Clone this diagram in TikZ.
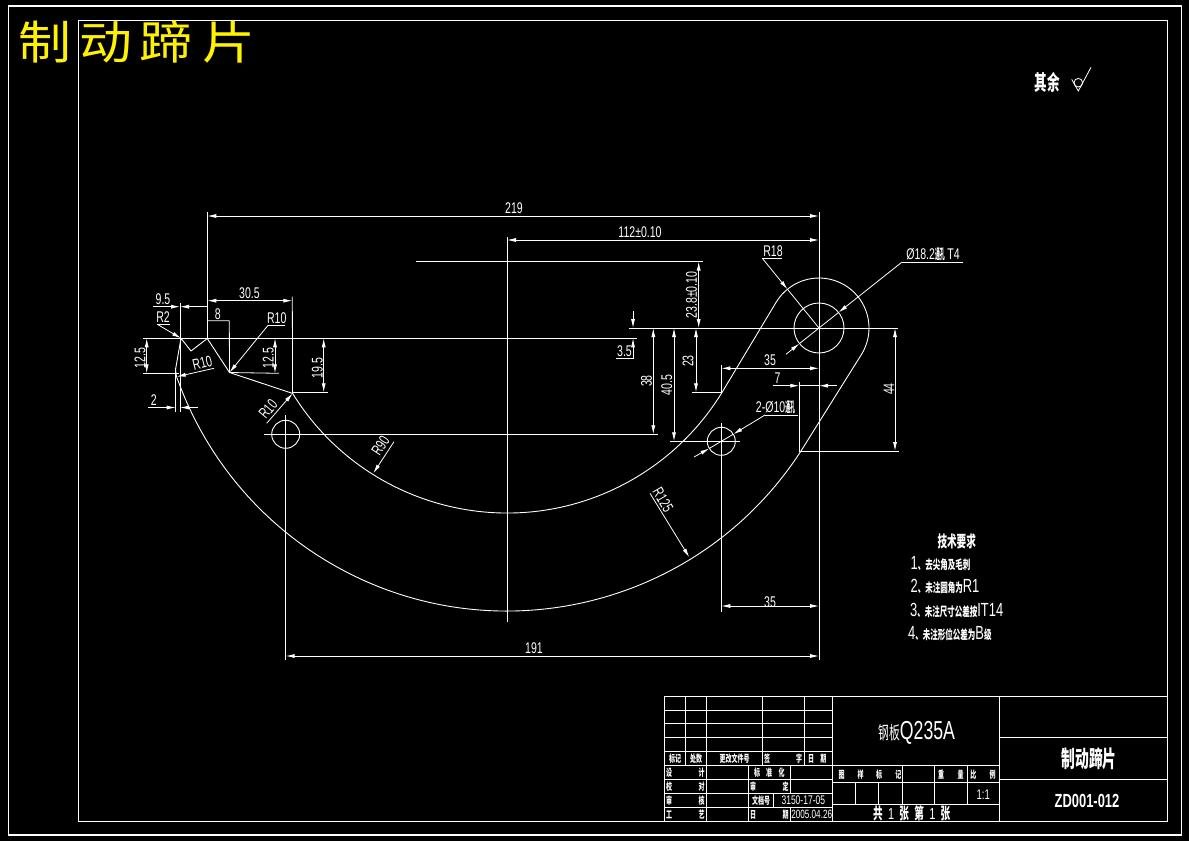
\documentclass[tikz,border=0pt]{standalone}
\usepackage{fontspec}
\usetikzlibrary{arrows.meta}
\newfontfamily\cadfont[FakeStretch=0.68]{Liberation Sans}
\newfontfamily\cjkfont[FakeStretch=0.6]{Noto Sans CJK SC}
\newfontfamily\cjksquash[FakeStretch=0.35]{Noto Sans CJK SC}
\newfontfamily\cjkwide[FakeStretch=1.15]{Noto Sans CJK SC}
\tikzset{
	>={Latex[length=9pt,width=4pt]},
	cadline/.style={draw=white,line width=0.8pt},
	partline/.style={draw=white,line width=0.9pt,line join=round},
	frameline/.style={draw=white,line width=1.1pt},
	dimtxt/.style={text=white,inner sep=0pt,font=\cadfont\fontsize{15.5}{15.5}\selectfont},
	tinytxt/.style={text=white,inner sep=0pt,font=\cjkfont\bfseries\fontsize{10}{10}\selectfont},
	notetxt/.style={text=white,inner sep=0pt,anchor=west,font=\cjkfont\bfseries\fontsize{12.5}{12.5}\selectfont},
}
\newcommand{\notenum}[1]{{\cadfont\mdseries\fontsize{19}{19}\selectfont #1}}
\begin{document}
\begin{tikzpicture}[x=1pt,y=-1pt]
	\useasboundingbox (0,0) rectangle (1189,841);
	\fill[black] (0,0) rectangle (1189,841);

	% frames
	\draw[frameline] (8.3,6) rectangle (1181.7,835);
	\draw[frameline] (78.7,20.3) rectangle (1167.7,821.3);
	\node[text=yellow,inner sep=0pt,anchor=west,font=\cjkwide\fontsize{46}{46}\selectfont] (sheet_title) at (18,42) {制\hspace{8pt}动\hspace{8pt}蹄\hspace{10pt}片};

	% roughness note
	\node[text=white,inner sep=0pt,font=\cjkfont\bfseries\fontsize{21}{21}\selectfont] (rest_note) at (1047.5,82) {其余};
	\path (1071.7,79.4) coordinate (tick_left);
	\path (1078.3,91) coordinate (tick_low);
	\path (1091,67.3) coordinate (tick_top);
	\draw[cadline] (tick_left) -- (tick_low) -- (tick_top);
	\draw[cadline] (1078.3,82.7) circle (4.3);

	% outline
	\path (507,261) coordinate (arc_centre);
	\path (819,328) coordinate (hole_big);
	\path (721.3,441.3) coordinate (hole_low);
	\path (285.7,434.3) coordinate (hole_left);
	\path (181,338.3) coordinate (nose_a);
	\path (191,351) coordinate (nose_b);
	\path (207.3,338.5) coordinate (nose_c);
	\path (229.5,372.5) coordinate (nose_d);
	\path (arc_centre) +(148.3:252) coordinate (inner_left);
	\path (hole_big) +(210.9:50) coordinate (lug_left);
	\path (arc_centre) +(32:350) coordinate (outer_right);
	\draw[partline] (nose_a) -- (nose_b) -- (nose_c) -- (nose_d) -- (inner_left)
		arc[start angle=-148.3,end angle=-30.9,radius=252pt] -- (lug_left)
		arc[start angle=-210.9,end angle=-392,radius=50pt] -- (outer_right)
		arc[start angle=-32,end angle=-160,radius=350pt]
		.. controls (176.3,377) and (175.5,373) .. (175.8,368) -- cycle;
	\draw[partline] (hole_big) circle (25);
	\draw[partline] (hole_low) circle (14);
	\draw[partline] (hole_left) circle (14);

	% long reference lines
	\draw[cadline] (819,212) -- (819,660);
	\draw[cadline] (507,237) -- (507,622);
	\draw[cadline] (207.3,212) -- (nose_c);
	\draw[cadline] (285.7,415) -- (285.7,660);
	\draw[cadline] (721.3,423) -- (721.3,612);
	\draw[cadline] (143,338.3) -- (637,338.3);
	\draw[cadline] (629,328) -- (898,328);
	\draw[cadline] (416,261.5) -- (703,261.5);
	\draw[cadline] (264,434.3) -- (657.5,434.3);
	\draw[cadline] (670,441.3) -- (740,441.3);

	% dimensions on the top and bottom
	\draw[cadline,<->] (207.3,216) -- (819,216);
	\node[dimtxt] (t_219) at (514,208.5) {219};
	\draw[cadline,<->] (507,240) -- (819,240);
	\node[dimtxt] (t_112) at (640,232) {112±0.10};
	\draw[cadline,<->] (285.7,656) -- (819,656);
	\node[dimtxt] (t_191) at (534,648.5) {191};
	\draw[cadline,<->] (721.3,606) -- (819,606);
	\node[dimtxt] (t_35b) at (770,602) {35};

	% dimensions at the lug
	\draw[cadline,<->] (698.7,261.5) -- (698.7,328);
	\node[dimtxt,rotate=90] (t_238) at (691.5,295) {23.8±0.10};
	\draw[cadline,->] (633,311) -- (633,328);
	\draw[cadline,<-] (633,338.3) -- (633,358) -- (616,358);
	\node[dimtxt] (t_35) at (624.5,351) {3.5};
	\draw[cadline,<->] (653.3,328) -- (653.3,434.3);
	\node[dimtxt,rotate=90] (t_38) at (646.5,381) {38};
	\draw[cadline,<->] (674,328) -- (674,441.3);
	\node[dimtxt,rotate=90] (t_405) at (666.7,385) {40.5};
	\draw[cadline,<->] (696,328) -- (696,392.3);
	\node[dimtxt,rotate=90] (t_23) at (688,361) {23};
	\draw[cadline] (692,392.3) -- (721.3,392.3) -- (721.3,365);
	\draw[cadline,<->] (721.3,368.3) -- (819,368.3);
	\node[dimtxt] (t_35a) at (770,360.5) {35};
	\draw[cadline] (799.3,382) -- (799.3,451) -- (899,451);
	\draw[cadline,->] (772.7,385.7) -- (799.3,385.7);
	\draw[cadline,->] (836.7,385.7) -- (819,385.7);
	\draw[cadline] (799.3,385.7) -- (819,385.7);
	\node[dimtxt] (t_7) at (777.5,378.5) {7};
	\draw[cadline,<->] (895,328) -- (895,451);
	\node[dimtxt,rotate=90] (t_44) at (889,389) {44};

	% leaders at the holes
	\path (762.3,258.3) coordinate (r18_knee);
	\path (787.5,289.3) coordinate (r18_tip);
	\draw[cadline] (781.7,258.3) -- (r18_knee);
	\draw[cadline,->] (r18_knee) -- (r18_tip);
	\draw[cadline] (r18_tip) -- (hole_big);
	\node[dimtxt] (t_r18) at (773,250.7) {R18};
	\path (901.7,262.3) coordinate (bore_knee);
	\path (838.6,312.4) coordinate (bore_tip_a);
	\path (799.4,343.6) coordinate (bore_tip_b);
	\draw[cadline] (963.3,262.3) -- (bore_knee);
	\draw[cadline,->] (bore_knee) -- (bore_tip_a);
	\draw[cadline] (bore_tip_a) -- (bore_tip_b);
	\draw[cadline,->] (786,354.3) -- (bore_tip_b);
	\node[dimtxt] (t_bore) at (933,254.5) {Ø18.2{\cjksquash\bfseries\fontsize{14}{14}\selectfont 通孔}\,T4};
	\path (765,415) coordinate (holes_knee);
	\path (733.3,434.2) coordinate (holes_tip_a);
	\path (709.3,448.4) coordinate (holes_tip_b);
	\draw[cadline] (798,415) -- (holes_knee);
	\draw[cadline,->] (holes_knee) -- (holes_tip_a);
	\draw[cadline] (holes_tip_a) -- (holes_tip_b);
	\draw[cadline,->] (694,457) -- (holes_tip_b);
	\node[dimtxt] (t_holes) at (775.5,407.5) {2-Ø10{\cjksquash\bfseries\fontsize{14}{14}\selectfont 通孔}};
	\draw[cadline,->] (394,441.7) -- (373.3,473.3);
	\node[dimtxt,rotate=57] (t_r90) at (380.5,445.5) {R90};
	\draw[cadline,->] (650,493.3) -- (689.3,557.3);
	\node[dimtxt,rotate=-60] (t_r125) at (663,500) {R125};

	% dimensions at the nose
	\draw[cadline] (180,303) -- (180,411.7);
	\draw[cadline] (175.7,368) -- (175.7,411.7);
	\draw[cadline,->] (153,306.7) -- (180,306.7);
	\draw[cadline,->] (207.3,306.7) -- (180,306.7);
	\node[dimtxt] (t_95) at (163,299.5) {9.5};
	\draw[cadline,<->] (207.3,300.7) -- (292.3,300.7);
	\node[dimtxt] (t_305) at (249.5,293) {30.5};
	\draw[cadline] (292.3,296.7) -- (inner_left);
	\draw[cadline] (207.3,320.7) -- (229.3,320.7) -- (nose_d);
	\node[dimtxt] (t_8) at (217.7,314) {8};
	\draw[cadline] (170,324.3) -- (157.3,324.3);
	\draw[cadline,->] (157.3,324.3) -- (nose_a);
	\node[dimtxt] (t_r2) at (163,317) {R2};
	\draw[cadline] (285,325) -- (268.3,325);
	\draw[cadline,->] (268.3,325) -- (nose_d);
	\node[dimtxt] (t_r10a) at (276.7,318.5) {R10};
	\draw[cadline,->] (214,368.3) -- (176.7,376.7);
	\node[dimtxt,rotate=14] (t_r10b) at (202.3,363) {R10};
	\draw[cadline,->] (266.7,423.3) -- (inner_left);
	\node[dimtxt,rotate=50] (t_r10c) at (268,409) {R10};
	\draw[cadline,<->] (146.7,338.3) -- (146.7,373.3);
	\draw[cadline] (143,373.3) -- (179,373.3);
	\node[dimtxt,rotate=90] (t_125a) at (140,358.3) {12.5};
	\draw[cadline,<->] (275,338.3) -- (275,373.3);
	\draw[cadline] (nose_d) -- (279,373.3);
	\node[dimtxt,rotate=90] (t_125b) at (268.3,358.3) {12.5};
	\draw[cadline,<->] (323.7,338.3) -- (323.7,392.3);
	\draw[cadline] (292.3,392.3) -- (327.7,392.3);
	\node[dimtxt,rotate=90] (t_195) at (317.3,368.3) {19.5};
	\draw[cadline,->] (148,407.5) -- (175.7,407.5);
	\draw[cadline,->] (197.7,407.5) -- (180,407.5);
	\node[dimtxt] (t_2) at (153.7,400.5) {2};

	% technical notes
	\node[text=white,inner sep=0pt,font=\cjkfont\bfseries\fontsize{16}{16}\selectfont] (notes_head) at (956.7,541.5) {技术要求};
	\node[notetxt] (note_a) at (910.5,563.5) {\notenum{1}、去尖角及毛刺};
	\node[notetxt] (note_b) at (910.5,586.7) {\notenum{2}、未注圆角为\notenum{R1}};
	\node[notetxt] (note_c) at (910,610) {\notenum{3}、未注尺寸公差按\notenum{IT14}};
	\node[notetxt] (note_d) at (908,634) {\notenum{4}、未注形位公差为\notenum{B}级};

	% title block
	\draw[frameline] (664.7,696.7) rectangle (1167.7,821.3);
	\draw[cadline] (664.7,710.3) -- (832.3,710.3);
	\draw[cadline] (664.7,723.7) -- (832.3,723.7);
	\draw[cadline] (664.7,737.7) -- (832.3,737.7);
	\draw[cadline] (664.7,751.3) -- (832.3,751.3);
	\draw[cadline] (664.7,765.3) -- (999.3,765.3);
	\draw[cadline] (664.7,779.3) -- (832.3,779.3);
	\draw[cadline] (664.7,793.3) -- (832.3,793.3);
	\draw[cadline] (664.7,807.3) -- (832.3,807.3);
	\draw[cadline] (832.3,782.3) -- (999.3,782.3);
	\draw[cadline] (832.3,804.3) -- (999.3,804.3);
	\draw[cadline] (999.3,737.3) -- (1167.7,737.3);
	\draw[cadline] (999.3,779.3) -- (1167.7,779.3);
	\draw[cadline] (685.3,696.7) -- (685.3,765.3);
	\draw[cadline] (706.7,696.7) -- (706.7,821.3);
	\draw[cadline] (762.3,696.7) -- (762.3,765.3);
	\draw[cadline] (804.3,696.7) -- (804.3,765.3);
	\draw[cadline] (832.3,696.7) -- (832.3,821.3);
	\draw[cadline] (999.3,696.7) -- (999.3,821.3);
	\draw[cadline] (748.3,765.3) -- (748.3,821.3);
	\draw[cadline] (790.7,765.3) -- (790.7,793.3);
	\draw[cadline] (790.7,807.3) -- (790.7,821.3);
	\draw[cadline] (773.3,793.3) -- (773.3,807.3);
	\draw[cadline] (855.3,782.3) -- (855.3,804.3);
	\draw[cadline] (878.3,782.3) -- (878.3,804.3);
	\draw[cadline] (902.3,765.3) -- (902.3,804.3);
	\draw[cadline] (934.3,765.3) -- (934.3,804.3);
	\draw[cadline] (967.7,765.3) -- (967.7,804.3);

	\node[tinytxt] (h_mark) at (675,759) {标记};
	\node[tinytxt] (h_count) at (696,759) {处数};
	\node[tinytxt] (h_file) at (734.5,759) {更改文件号};
	\node[tinytxt] (h_sign_a) at (767,759) {签};
	\node[tinytxt] (h_sign_b) at (799,759) {字};
	\node[tinytxt] (h_date_a) at (811,759) {日};
	\node[tinytxt] (h_date_b) at (823.3,759) {期};
	\node[tinytxt] (r_design_a) at (669,772.5) {设};
	\node[tinytxt] (r_design_b) at (701.7,772.5) {计};
	\node[tinytxt] (r_std_a) at (757,772.5) {标};
	\node[tinytxt] (r_std_b) at (769,772.5) {准};
	\node[tinytxt] (r_std_c) at (781.7,772.5) {化};
	\node[tinytxt] (r_check_a) at (669,786.5) {校};
	\node[tinytxt] (r_check_b) at (701.7,786.5) {对};
	\node[tinytxt] (r_appr_a) at (753,786.5) {审};
	\node[tinytxt] (r_appr_b) at (785.7,786.5) {定};
	\node[tinytxt] (r_rev_a) at (669,800.5) {审};
	\node[tinytxt] (r_rev_b) at (701.7,800.5) {核};
	\node[tinytxt] (r_docno) at (761,800.5) {文档号};
	\node[dimtxt,font=\cadfont\fontsize{12.5}{12.5}\selectfont] (r_docval) at (803.3,800.5) {3150-17-05};
	\node[tinytxt] (r_tech_a) at (669,814.5) {工};
	\node[tinytxt] (r_tech_b) at (701.7,814.5) {艺};
	\node[tinytxt] (r_day_a) at (753,814.5) {日};
	\node[tinytxt] (r_day_b) at (785.7,814.5) {期};
	\node[dimtxt,font=\cadfont\fontsize{12}{12}\selectfont] (r_dayval) at (811.7,814.5) {2005.04.26};
	\node[tinytxt] (h_pattern_a) at (841.7,775) {图};
	\node[tinytxt] (h_pattern_b) at (860.7,775) {样};
	\node[tinytxt] (h_pattern_c) at (879,775) {标};
	\node[tinytxt] (h_pattern_d) at (898.3,775) {记};
	\node[tinytxt] (h_weight_a) at (941,775) {重};
	\node[tinytxt] (h_weight_b) at (960.7,775) {量};
	\node[tinytxt] (h_scale_a) at (973.3,775) {比};
	\node[tinytxt] (h_scale_b) at (992.7,775) {例};
	\node[dimtxt,font=\cadfont\fontsize{14}{14}\selectfont] (scale_val) at (983.3,794.3) {1:1};
	\node[text=white,inner sep=0pt,font=\cjkfont\bfseries\fontsize{16}{16}\selectfont] (sheet_count) at (911.7,813) {共\,\,{\cadfont\mdseries 1}\,\,张\,\,第\,\,{\cadfont\mdseries 1}\,\,张};
	\node[text=white,inner sep=0pt,font=\cadfont\fontsize{26}{26}\selectfont] (material) at (916.7,732.7) {{\cjkfont\fontsize{18}{18}\selectfont 钢板}Q235A};
	\node[text=white,inner sep=0pt,font=\cjkfont\bfseries\fontsize{23}{23}\selectfont] (part_name) at (1089,759) {制动蹄片};
	\node[text=white,inner sep=0pt,font=\cadfont\bfseries\fontsize{19}{19}\selectfont] (part_code) at (1087,800.7) {ZD001-012};
\end{tikzpicture}
\end{document}
